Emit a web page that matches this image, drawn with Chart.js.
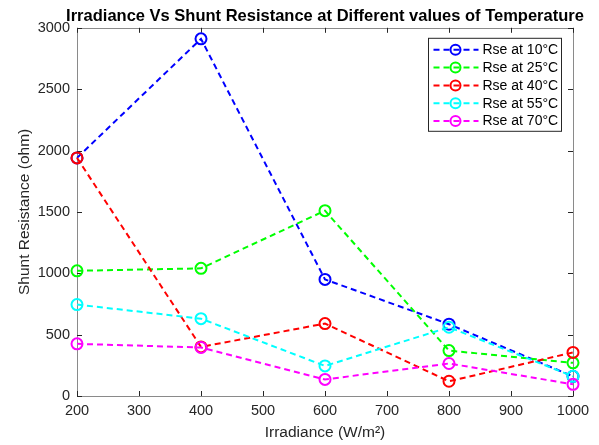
<!DOCTYPE html>
<html>
<head>
<meta charset="utf-8">
<script src="https://cdn.jsdelivr.net/npm/chart.js@4.4.0/dist/chart.umd.min.js"></script>
<style>
  html, body { margin: 0; padding: 0; background: #fff; }
  #wrap { width: 599px; height: 445px; }
</style>
</head>
<body>
<div id="wrap"><canvas id="chart"></canvas></div>
<script>
// valeurs
const irradiance = [200, 400, 600, 800, 1000];
const rse10 = [1940, 2910, 950, 585, 160];
const rse25 = [1020, 1040, 1510, 370, 270];
const rse40 = [1940, 400, 590, 120, 355];
const rse55 = [745, 630, 245, 560, 160];
const rse70 = [425, 395, 135, 265, 95];

const seriesNames = ['Rse at 10°C', 'Rse at 25°C', 'Rse at 40°C', 'Rse at 55°C', 'Rse at 70°C'];
const seriesColors = ['#0000ff', '#00ff00', '#ff0000', '#00ffff', '#ff00ff'];
const xTicks = [200, 300, 400, 500, 600, 700, 800, 900, 1000];
const yTicks = [0, 500, 1000, 1500, 2000, 2500, 3000];

const FONT = "'Liberation Sans', Arial, sans-serif";
const DASH = [6, 4];

const allSeries = [rse10, rse25, rse40, rse55, rse70];
const datasets = allSeries.map((vals, i) => ({
    label: seriesNames[i],
    data: vals.map((v, k) => ({ x: irradiance[k], y: v })),
    borderColor: seriesColors[i],
    backgroundColor: 'transparent',
    borderWidth: 2,
    borderDash: DASH,
    pointRadius: 5.5,
    pointBorderWidth: 2,
    pointBackgroundColor: 'transparent',
    pointBorderColor: seriesColors[i],
    tension: 0,
    clip: false,
    order: allSeries.length - i // le dernier tracé passe dessus, comme dans MATLAB
}));

// le titre est centré sur la zone de tracé mais peut déborder
const titleSpan = {
    id: 'titleSpan',
    afterLayout(chart) {
        const t = chart.titleBlock, a = chart.chartArea;
        if (!t) return;
        const half = Math.min(a.left + (a.right - a.left) / 2, chart.width - (a.left + a.right) / 2);
        const c = (a.left + a.right) / 2;
        t.left = c - half;
        t.right = c + half;
        t.width = t.right - t.left;
    }
};

// cadre + graduations vers l'intérieur
const boxPlugin = {
    id: 'matlabBox',
    beforeDatasetsDraw(chart) {
        const { ctx, chartArea: a, scales } = chart;
        ctx.save();
        ctx.strokeStyle = '#8a8a8a';
        ctx.lineWidth = 1;
        ctx.strokeRect(Math.round(a.left) + 0.5, Math.round(a.top) + 0.5,
            Math.round(a.right - a.left), Math.round(a.bottom - a.top));
        ctx.strokeStyle = '#262626';
        ctx.beginPath();
        xTicks.forEach(v => {
            const px = Math.round(scales.x.getPixelForValue(v)) + 0.5;
            ctx.moveTo(px, a.bottom); ctx.lineTo(px, a.bottom - 5);
            ctx.moveTo(px, a.top); ctx.lineTo(px, a.top + 5);
        });
        yTicks.forEach(v => {
            const py = Math.round(scales.y.getPixelForValue(v)) + 0.5;
            ctx.moveTo(a.left, py); ctx.lineTo(a.left + 5, py);
            ctx.moveTo(a.right, py); ctx.lineTo(a.right - 5, py);
        });
        ctx.stroke();
        ctx.restore();
    }
};

// légende dans le coin haut droit, style MATLAB
const legendPlugin = {
    id: 'matlabLegend',
    afterDraw(chart) {
        const { ctx, chartArea: a } = chart;
        const x0 = a.right - 144.5, y0 = a.top + 10.5;
        const w = 133, rowH = 17.8, h = 93;
        ctx.save();
        ctx.fillStyle = '#fff';
        ctx.fillRect(x0, y0, w, h);
        ctx.strokeStyle = '#262626';
        ctx.lineWidth = 1;
        ctx.strokeRect(x0, y0, w, h);
        ctx.font = '14px ' + FONT;
        ctx.textBaseline = 'middle';
        seriesNames.forEach((name, i) => {
            const y = y0 + 11.5 + i * rowH;
            ctx.strokeStyle = seriesColors[i];
            ctx.lineWidth = 2;
            ctx.setLineDash(DASH);
            ctx.beginPath();
            ctx.moveTo(x0 + 5, y); ctx.lineTo(x0 + 50, y);
            ctx.stroke();
            ctx.setLineDash([]);
            ctx.beginPath();
            ctx.arc(x0 + 27, y, 5, 0, Math.PI * 2);
            ctx.stroke();
            ctx.fillStyle = '#000';
            ctx.fillText(name, x0 + 54, y + 0.5);
        });
        ctx.restore();
    }
};

const plainTick = v => String(v);

new Chart(document.getElementById('chart'), {
    type: 'line',
    data: { datasets },
    options: {
        responsive: true,
        maintainAspectRatio: false,
        animation: false,
        layout: { padding: { top: 0, right: 26, bottom: 0, left: 0 } },
        plugins: {
            legend: { display: false },
            tooltip: { enabled: false },
            title: {
                display: true,
                fullSize: false,
                text: 'Irradiance Vs Shunt Resistance at Different values of Temperature',
                color: '#000',
                font: { family: FONT, size: 16.5, weight: 'bold' },
                padding: { top: 7, bottom: 1 }
            }
        },
        scales: {
            x: {
                type: 'linear',
                min: 200,
                max: 1000,
                afterBuildTicks: s => { s.ticks = xTicks.map(v => ({ value: v })); },
                afterFit: s => { s.height = 49; },
                grid: { display: false, drawTicks: false },
                border: { display: false },
                ticks: { color: '#262626', font: { family: FONT, size: 14.5 }, padding: 6, maxRotation: 0, callback: plainTick },
                title: {
                    display: true,
                    text: 'Irradiance (W/m²)',
                    color: '#262626',
                    font: { family: FONT, size: 15.5 },
                    padding: { top: 0, bottom: 3 }
                }
            },
            y: {
                min: 0,
                max: 3000,
                afterBuildTicks: s => { s.ticks = yTicks.map(v => ({ value: v })); },
                afterFit: s => { s.width = 77; },
                grid: { display: false, drawTicks: false },
                border: { display: false },
                ticks: { color: '#262626', font: { family: FONT, size: 14.5 }, padding: 7, callback: plainTick },
                title: {
                    display: true,
                    text: 'Shunt Resistance (ohm)',
                    color: '#262626',
                    font: { family: FONT, size: 15.5 },
                    padding: { top: 15, bottom: 0 }
                }
            }
        }
    },
    plugins: [titleSpan, boxPlugin, legendPlugin]
});
</script>
</body>
</html>
